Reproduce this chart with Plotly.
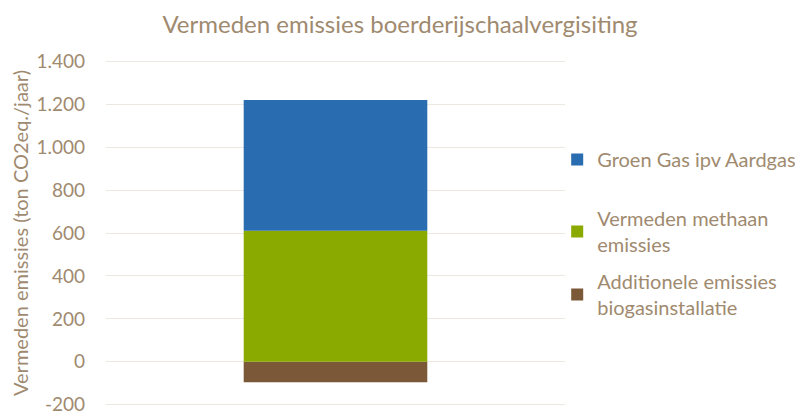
import plotly.graph_objects as go

categories = [""]
series_names = ["Additionele emissies<br>biogasinstallatie", "Vermeden methaan<br>emissies", "Groen Gas ipv Aardgas"]
additionele = [-95]
methaan = [610]
groengas = [610]
tick_vals = [-200, 0, 200, 400, 600, 800, 1000, 1200, 1400]
tick_text = ["-200", "0", "200", "400", "600", "800", "1.000", "1.200", "1.400"]

colors = ["#7a5838", "#8aaa00", "#2a6cb0"]
txt = "#a08a6f"
FONT = "Lato, Open Sans, sans-serif"

# page body has an 8px margin; figure coords = screen coords - 8
W, H = 803, 414
# plot area in figure pixels: x 98..557, y 52..398 (range padded slightly so edge gridlines draw)
PT, PB = 52, 398
legend_ids = ["legend3", "legend2", "legend"]
legend_tops = [254, 191, 132]  # figure pixel tops
def py(p):
    return (PB - p) / (PB - PT)

fig = go.Figure()
for name, vals, col, lid in zip(series_names, [additionele, methaan, groengas], colors, legend_ids):
    fig.add_trace(go.Bar(x=categories, y=vals, name=name, marker_color=col,
                         marker_line_width=0, width=0.4, legend=lid))

leg_common = dict(x=0.983, xanchor="left", yanchor="top", bgcolor="rgba(0,0,0,0)",
                  font=dict(size=20, color=txt, family=FONT), itemwidth=30)

fig.update_layout(
    width=W, height=H,
    barmode="relative",
    paper_bgcolor="white", plot_bgcolor="white",
    font=dict(family=FONT, color=txt, size=18),
    title=dict(text="Vermeden emissies boerderijschaalvergisiting", x=392 / W, xanchor="center",
               y=1 - 17 / H, yanchor="middle", font=dict(size=24, color=txt)),
    margin=dict(l=98, r=W - 557, t=PT, b=H - PB, autoexpand=False),
    showlegend=True,
    legend=dict(y=py(legend_tops[2]), **leg_common),
    legend2=dict(y=py(legend_tops[1]), **leg_common),
    legend3=dict(y=py(legend_tops[0]), **leg_common),
    xaxis=dict(showticklabels=False, showgrid=False, zeroline=False, showline=False, automargin=False),
    yaxis=dict(range=[-206, 1406], tickvals=tick_vals, ticktext=tick_text, showgrid=True,
               gridcolor="#ede7e1", gridwidth=1, zeroline=False, showline=False, ticks="",
               ticklabelstandoff=20, tickfont=dict(size=19, color=txt), automargin=False,
               title=dict(text="Vermeden emissies (ton CO2eq./jaar)", font=dict(size=20, color=txt), standoff=9)),
)

fig.write_html("out.html")
